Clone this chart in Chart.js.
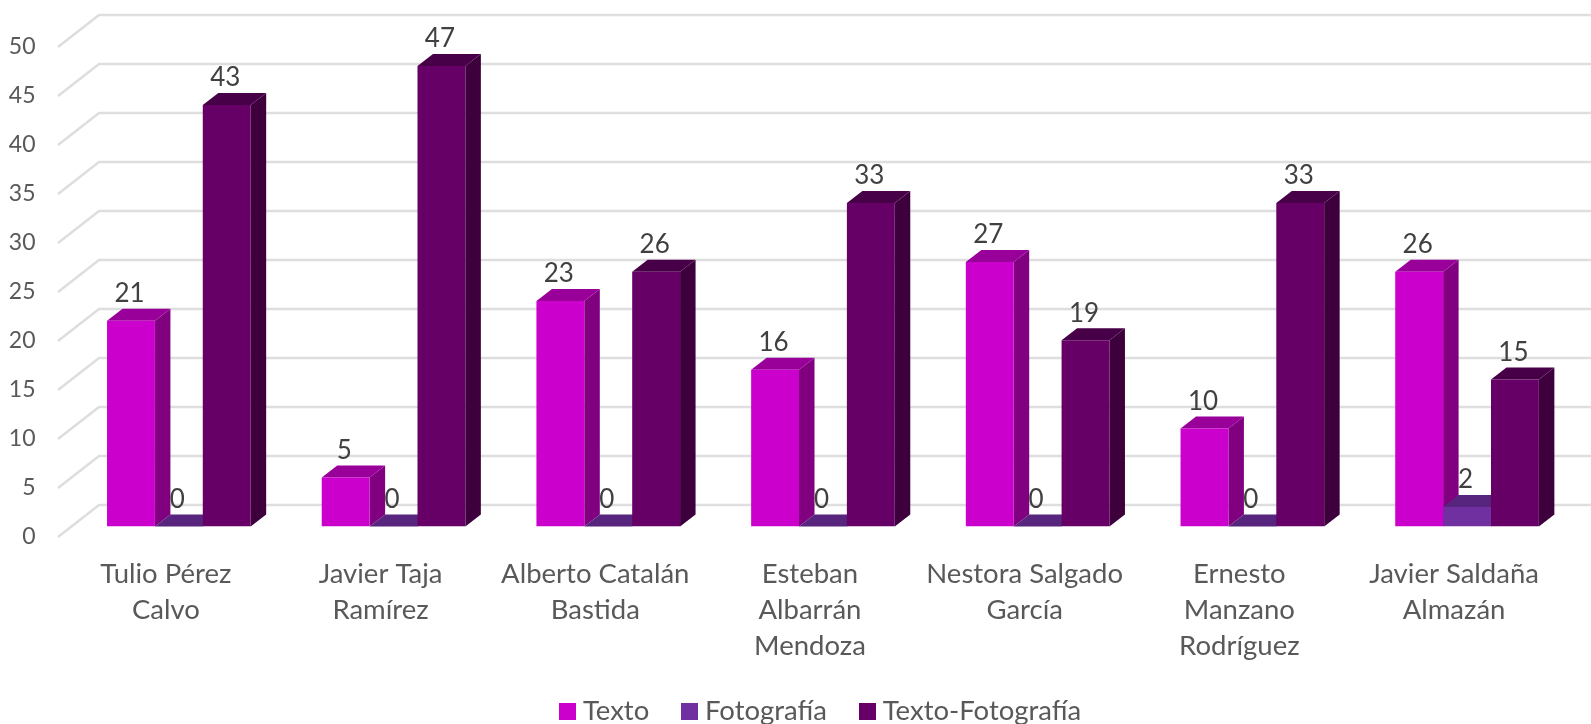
<!DOCTYPE html>
<html><head><meta charset="utf-8">
<style>html,body{margin:0;padding:0;background:#fff}canvas{display:block}</style>
<script src="https://cdn.jsdelivr.net/npm/chart.js@4"></script>
</head><body><canvas id="c" width="1591" height="724"></canvas>
<script>
const categories = [["Tulio Pérez","Calvo"],["Javier Taja","Ramírez"],["Alberto Catalán","Bastida"],["Esteban","Albarrán","Mendoza"],["Nestora Salgado","García"],["Ernesto","Manzano","Rodríguez"],["Javier Saldaña","Almazán"]];
const texto = [21,5,23,16,27,10,26];
const fotografia = [0,0,0,0,0,0,2];
const textoFotografia = [43,47,26,33,19,33,15];
const FONT = "Lato, Carlito, sans-serif";
const DX = 15.5, DY = 12;
const shades = [
  {side:"#800080", top:"#990099"},
  {side:"#4A2070", top:"#57257D"},
  {side:"#3D003D", top:"#470047"}
];
function poly(ctx, pts, color){
  ctx.fillStyle = color; ctx.beginPath();
  pts.forEach((p,i)=> i ? ctx.lineTo(p[0],p[1]) : ctx.moveTo(p[0],p[1]));
  ctx.closePath(); ctx.fill();
}
function swatch(color){
  const c = document.createElement("canvas"); c.width = 17; c.height = 17;
  const g = c.getContext("2d"); g.fillStyle = color; g.fillRect(0,0,17,17);
  return c;
}
const wall3d = {
  id:"wall3d",
  afterLayout(chart){
    chart.legend.top += 11; chart.legend.bottom += 11;
    chart.legend.left += 36.5; chart.legend.right += 36.5;
    chart.scales.x.bottom += 40;
  },
  beforeDatasetsDraw(chart){
    const {ctx, scales:{y}} = chart;
    ctx.save();
    ctx.strokeStyle = "#DEDEDE"; ctx.lineWidth = 2.6;
    y.ticks.forEach(t=>{
      const p = y.getPixelForValue(t.value);
      ctx.beginPath();
      ctx.moveTo(58, p+10.5); ctx.lineTo(99, p-21.5); ctx.lineTo(chart.width, p-21.5);
      ctx.stroke();
    });
    chart.data.datasets.forEach((ds,di)=>{
      chart.getDatasetMeta(di).data.forEach(b=>{
        const w = b.width/2, l = b.x-w, r = b.x+w, t = b.y, base = b.base;
        poly(ctx, [[r,base],[r+DX,base-DY],[r+DX,t-DY],[r,t]], shades[di].side);
        poly(ctx, [[l,t],[l+DX,t-DY],[r+DX,t-DY],[r,t]], shades[di].top);
      });
    });
    ctx.restore();
  },
  afterDatasetsDraw(chart){
    const {ctx} = chart;
    ctx.save();
    ctx.font = "26px "+FONT; ctx.fillStyle = "#404040";
    ctx.textAlign = "center"; ctx.textBaseline = "middle";
    chart.data.datasets.forEach((ds,di)=>{
      chart.getDatasetMeta(di).data.forEach((b,i)=>{
        ctx.fillText(String(ds.data[i]), b.x-1.5, b.y-27);
      });
    });
    ctx.restore();
  }
};
new Chart(document.getElementById("c"),{
  type:"bar",
  data:{labels:categories,datasets:[
    {label:"Texto",data:texto,backgroundColor:"#CC00CC"},
    {label:"Fotografía",data:fotografia,backgroundColor:"#7030A0"},
    {label:"Texto-Fotografía",data:textoFotografia,backgroundColor:"#660066"}
  ]},
  options:{
    responsive:false,animation:false,
    categoryPercentage:0.669,barPercentage:1,
    layout:{padding:{top:36.5,right:16.6,left:0,bottom:0}},
    scales:{
      y:{min:0,max:50,
        ticks:{stepSize:5,padding:36,labelOffset:10.5,color:"#595959",font:{family:FONT,size:23}},
        grid:{display:false,drawTicks:false},border:{display:false},
        afterFit(s){s.width=71.5; s.paddingTop=0; s.paddingBottom=0;}
      },
      x:{
        ticks:{autoSkip:false,maxRotation:0,minRotation:0,padding:30,labelOffset:-13,color:"#595959",font:{family:FONT,size:27.5,lineHeight:1.31}},
        grid:{display:false,drawTicks:false},border:{display:false},
        afterFit(s){s.height=121;}
      }
    },
    plugins:{
      legend:{position:"bottom",labels:{
        boxWidth:3,boxHeight:17,padding:39,usePointStyle:true,pointStyleWidth:3,
        color:"#595959",font:{family:FONT,size:27.5},
        generateLabels(chart){
          return Chart.defaults.plugins.legend.labels.generateLabels(chart).map(it=>{
            it.pointStyle = swatch(it.fillStyle); return it;
          });
        }
      },onClick:null},
      tooltip:{enabled:false}
    }
  },
  plugins:[wall3d]
});
</script></body></html>
